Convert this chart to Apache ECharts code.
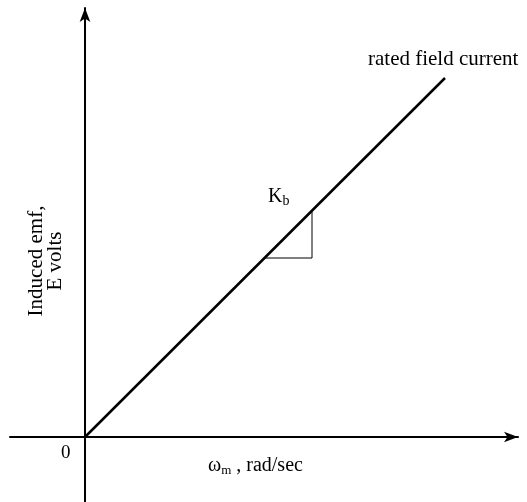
<!DOCTYPE html>
<html>
<head>
<meta charset="utf-8">
<script src="https://cdn.jsdelivr.net/npm/echarts@6/dist/echarts.min.js"></script>
<style>html,body{margin:0;padding:0;background:#fff}#c{width:527px;height:502px}</style>
</head>
<body>
<div id="c"></div>
<script>
// Data (arbitrary units: speed vs induced emf)
var xRange = [-75, 433];
var yRange = [-65, 429];
var emfLine = [[0, 0], [360, 359]];
var slopeTriangle = [[180, 179], [227, 179], [227, 226]];
var lineLabel = 'rated field current';
var slopeLabel = 'K';
var slopeSub = 'b';
var originLabel = '0';
var xName = 'ω';
var xSub = 'm';
var xUnit = ' , rad/sec';
var yNameLines = ['Induced emf,', 'E volts'];

var serif = '"Liberation Serif", "DejaVu Serif", serif';
var chart = echarts.init(document.getElementById('c'));
chart.setOption({
  animation: false,
  backgroundColor: '#fff',
  grid: { left: 10, right: 9, top: 8, bottom: 0, containLabel: false },
  xAxis: {
    type: 'value', min: xRange[0], max: xRange[1],
    axisLine: { onZero: true, symbol: ['none', 'arrow'], symbolSize: [8, 14], lineStyle: { color: '#000', width: 2 } },
    axisTick: { show: false }, axisLabel: { show: false }, splitLine: { show: false }
  },
  yAxis: {
    type: 'value', min: yRange[0], max: yRange[1],
    axisLine: { onZero: true, symbol: ['none', 'arrow'], symbolSize: [8, 14], lineStyle: { color: '#000', width: 2 } },
    axisTick: { show: false }, axisLabel: { show: false }, splitLine: { show: false }
  },
  series: [
    { type: 'line', data: emfLine, showSymbol: false, lineStyle: { color: '#000', width: 2.5 } },
    { type: 'line', data: slopeTriangle, showSymbol: false, lineStyle: { color: '#000', width: 1 } }
  ],
  graphic: [
    { type: 'text', left: 368, top: 49, style: { text: lineLabel, font: '21px ' + serif, fill: '#000' } },
    { type: 'text', left: 268, top: 187, style: {
        text: slopeLabel + '{s|' + slopeSub + '}', font: '20px ' + serif, fill: '#000',
        rich: { s: { fontSize: 14, fontFamily: serif, padding: [9, 0, 0, 0], fill: '#000' } } } },
    { type: 'text', left: 61, top: 444, style: { text: originLabel, font: '19px ' + serif, fill: '#000' } },
    { type: 'text', left: 208, top: 456, style: {
        text: xName + '{s|' + xSub + '}' + xUnit, font: '20px ' + serif, fill: '#000',
        rich: { s: { fontSize: 13, fontFamily: serif, padding: [9, 0, 0, 0], fill: '#000' } } } },
    { type: 'text', x: 46, y: 261, rotation: Math.PI / 2, style: {
        text: yNameLines.join('\n'), font: '21px ' + serif, fill: '#000',
        align: 'center', verticalAlign: 'middle', lineHeight: 19 } }
  ]
});
</script>
</body>
</html>
